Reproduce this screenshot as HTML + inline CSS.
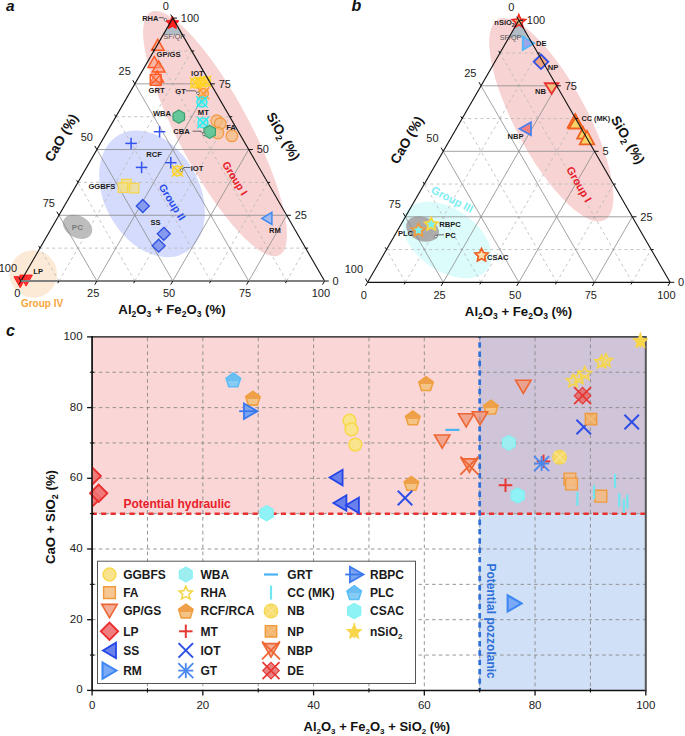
<!DOCTYPE html>
<html><head><meta charset="utf-8"><style>
html,body{margin:0;padding:0;background:#fff;width:685px;height:736px;overflow:hidden}
svg{display:block}
text{font-family:"Liberation Sans", sans-serif}
</style></head><body>
<svg width="685" height="736" viewBox="0 0 685 736">
<defs><linearGradient id="g0" x1="0" y1="0" x2="0" y2="1"><stop offset="0.55" stop-color="#6CBDF0"/><stop offset="0.55" stop-color="#86CCF4"/></linearGradient><linearGradient id="g1" x1="0" y1="0" x2="0" y2="1"><stop offset="0.55" stop-color="#EEA04A"/><stop offset="0.55" stop-color="#F4C486"/></linearGradient><linearGradient id="g2" x1="0" y1="0" x2="0" y2="1"><stop offset="0.55" stop-color="#EEA04A"/><stop offset="0.55" stop-color="#F4C486"/></linearGradient><linearGradient id="g3" x1="0" y1="0" x2="0" y2="1"><stop offset="0.55" stop-color="#EEA04A"/><stop offset="0.55" stop-color="#F4C486"/></linearGradient><linearGradient id="g4" x1="0" y1="0" x2="0" y2="1"><stop offset="0.55" stop-color="#EEA04A"/><stop offset="0.55" stop-color="#F4C486"/></linearGradient><linearGradient id="g5" x1="0" y1="0" x2="0" y2="1"><stop offset="0.55" stop-color="#EEA04A"/><stop offset="0.55" stop-color="#F4C486"/></linearGradient><linearGradient id="g6" x1="0" y1="0" x2="0" y2="1"><stop offset="0.55" stop-color="#EEA04A"/><stop offset="0.55" stop-color="#F4C486"/></linearGradient><linearGradient id="g7" x1="0" y1="0" x2="0" y2="1"><stop offset="0.55" stop-color="#6CBDF0"/><stop offset="0.55" stop-color="#86CCF4"/></linearGradient></defs><rect width="685" height="736" fill="#fff"/>
<circle cx="33.3" cy="274" r="23.8" fill="#FDEAD6"/>
<ellipse cx="215" cy="133.6" rx="137.5" ry="36" transform="rotate(62 215 133.6)" fill="#F8D3D3"/>
<ellipse cx="152" cy="193.8" rx="67.5" ry="47.5" transform="rotate(61 152 193.8)" fill="#D5DBFD"/>
<ellipse cx="77.6" cy="226.8" rx="15.5" ry="11" transform="rotate(28 77.6 226.8)" fill="#BDBDBD"/>
<path d="M170.4,22 L175.2,22 L182.2,34.3 Q173,35.5 163.4,34.3 Z" fill="#B2BCC6"/>
<line x1="39.98" y1="248.14" x2="305.63" y2="248.14" stroke="#b8b8b8" stroke-width="0.8" stroke-dasharray="3.1,3"/>
<line x1="58.95" y1="281" x2="191.78" y2="50.96" stroke="#b8b8b8" stroke-width="0.8" stroke-dasharray="3.1,3"/>
<line x1="286.65" y1="281" x2="153.83" y2="50.96" stroke="#b8b8b8" stroke-width="0.8" stroke-dasharray="3.1,3"/>
<line x1="77.92" y1="182.41" x2="267.68" y2="182.41" stroke="#b8b8b8" stroke-width="0.8" stroke-dasharray="3.1,3"/>
<line x1="134.85" y1="281" x2="229.72" y2="116.69" stroke="#b8b8b8" stroke-width="0.8" stroke-dasharray="3.1,3"/>
<line x1="210.75" y1="281" x2="115.88" y2="116.69" stroke="#b8b8b8" stroke-width="0.8" stroke-dasharray="3.1,3"/>
<line x1="115.88" y1="116.69" x2="229.72" y2="116.69" stroke="#b8b8b8" stroke-width="0.8" stroke-dasharray="3.1,3"/>
<line x1="210.75" y1="281" x2="267.68" y2="182.41" stroke="#b8b8b8" stroke-width="0.8" stroke-dasharray="3.1,3"/>
<line x1="134.85" y1="281" x2="77.92" y2="182.41" stroke="#b8b8b8" stroke-width="0.8" stroke-dasharray="3.1,3"/>
<line x1="153.83" y1="50.96" x2="191.78" y2="50.96" stroke="#b8b8b8" stroke-width="0.8" stroke-dasharray="3.1,3"/>
<line x1="286.65" y1="281" x2="305.63" y2="248.14" stroke="#b8b8b8" stroke-width="0.8" stroke-dasharray="3.1,3"/>
<line x1="58.95" y1="281" x2="39.98" y2="248.14" stroke="#b8b8b8" stroke-width="0.8" stroke-dasharray="3.1,3"/>
<line x1="58.95" y1="215.28" x2="286.65" y2="215.28" stroke="#8a8a8a" stroke-width="0.8" />
<line x1="96.9" y1="281" x2="210.75" y2="83.83" stroke="#8a8a8a" stroke-width="0.8" />
<line x1="248.7" y1="281" x2="134.85" y2="83.83" stroke="#8a8a8a" stroke-width="0.8" />
<line x1="96.9" y1="149.55" x2="248.7" y2="149.55" stroke="#8a8a8a" stroke-width="0.8" />
<line x1="172.8" y1="281" x2="248.7" y2="149.55" stroke="#8a8a8a" stroke-width="0.8" />
<line x1="172.8" y1="281" x2="96.9" y2="149.55" stroke="#8a8a8a" stroke-width="0.8" />
<line x1="134.85" y1="83.83" x2="210.75" y2="83.83" stroke="#8a8a8a" stroke-width="0.8" />
<line x1="248.7" y1="281" x2="286.65" y2="215.28" stroke="#8a8a8a" stroke-width="0.8" />
<line x1="96.9" y1="281" x2="58.95" y2="215.28" stroke="#8a8a8a" stroke-width="0.8" />
<text x="17.3" y="296.5" font-size="11" font-weight="normal" fill="#222" text-anchor="middle"  >0</text>
<text x="332.6" y="284.7" font-size="11" font-weight="normal" fill="#222" text-anchor="start"  >0</text>
<text x="168.8" y="9.5" font-size="11" font-weight="normal" fill="#222" text-anchor="end"  >0</text>
<text x="93.2" y="296.5" font-size="11" font-weight="normal" fill="#222" text-anchor="middle"  >25</text>
<text x="294.65" y="218.97" font-size="11" font-weight="normal" fill="#222" text-anchor="start"  >25</text>
<text x="130.85" y="75.23" font-size="11" font-weight="normal" fill="#222" text-anchor="end"  >25</text>
<text x="169.1" y="296.5" font-size="11" font-weight="normal" fill="#222" text-anchor="middle"  >50</text>
<text x="256.7" y="153.25" font-size="11" font-weight="normal" fill="#222" text-anchor="start"  >50</text>
<text x="92.9" y="140.95" font-size="11" font-weight="normal" fill="#222" text-anchor="end"  >50</text>
<text x="245" y="296.5" font-size="11" font-weight="normal" fill="#222" text-anchor="middle"  >75</text>
<text x="218.75" y="87.53" font-size="11" font-weight="normal" fill="#222" text-anchor="start"  >75</text>
<text x="54.95" y="206.67" font-size="11" font-weight="normal" fill="#222" text-anchor="end"  >75</text>
<text x="320.9" y="296.5" font-size="11" font-weight="normal" fill="#222" text-anchor="middle"  >100</text>
<text x="180.8" y="21.8" font-size="11" font-weight="normal" fill="#222" text-anchor="start"  >100</text>
<text x="17" y="272.4" font-size="11" font-weight="normal" fill="#222" text-anchor="end"  >100</text>
<text x="174.3" y="38.6" font-size="7.2" font-weight="normal" fill="#555" text-anchor="middle"  >SF/QP</text>
<polygon points="157.8,39.3 164.1,50.3 151.5,50.3" fill="#F8A088" fill-opacity="0.55" stroke="#FF5A22" stroke-width="1.5" stroke-linejoin="miter" />
<polygon points="154.3,56.4 160.6,67.4 148,67.4" fill="#F8A088" fill-opacity="0.55" stroke="#FF5A22" stroke-width="1.5" stroke-linejoin="miter" />
<polygon points="158.6,60.9 164.9,71.9 152.3,71.9" fill="#F8A088" fill-opacity="0.55" stroke="#FF5A22" stroke-width="1.5" stroke-linejoin="miter" />
<polygon points="157.1,70.9 163.4,81.9 150.8,81.9" fill="#F8A088" fill-opacity="0.55" stroke="#FF5A22" stroke-width="1.5" stroke-linejoin="miter" />
<polygon points="150.3,74.4 161.1,74.4 161.1,85.2 150.3,85.2" fill="#F8A088" fill-opacity="0.45" stroke="#FF5A22" stroke-width="1.4" stroke-linejoin="miter" />
<line x1="150.3" y1="74.4" x2="161.1" y2="85.2" stroke="#FF5A22" stroke-width="1.2" />
<line x1="150.3" y1="85.2" x2="161.1" y2="74.4" stroke="#FF5A22" stroke-width="1.2" />
<text x="168.5" y="57.34" font-size="7.6" font-weight="bold" fill="#1a1a1a" text-anchor="middle"  >GP/GS</text>
<text x="156.5" y="92.74" font-size="7.6" font-weight="bold" fill="#1a1a1a" text-anchor="middle"  >GRT</text>
<circle cx="195.5" cy="83" r="5" fill="#FFD320" fill-opacity="0.35" stroke="#FFD320" stroke-width="1.3"/>
<line x1="189.75" y1="77.25" x2="201.25" y2="88.75" stroke="#FFD320" stroke-width="1.3" />
<line x1="189.75" y1="88.75" x2="201.25" y2="77.25" stroke="#FFD320" stroke-width="1.3" />
<circle cx="200.5" cy="82.3" r="5" fill="#FFD320" fill-opacity="0.35" stroke="#FFD320" stroke-width="1.3"/>
<line x1="194.75" y1="76.55" x2="206.25" y2="88.05" stroke="#FFD320" stroke-width="1.3" />
<line x1="194.75" y1="88.05" x2="206.25" y2="76.55" stroke="#FFD320" stroke-width="1.3" />
<circle cx="205.6" cy="81.5" r="5" fill="#FFD320" fill-opacity="0.35" stroke="#FFD320" stroke-width="1.3"/>
<line x1="199.85" y1="75.75" x2="211.35" y2="87.25" stroke="#FFD320" stroke-width="1.3" />
<line x1="199.85" y1="87.25" x2="211.35" y2="75.75" stroke="#FFD320" stroke-width="1.3" />
<text x="197.4" y="76.14" font-size="7.6" font-weight="bold" fill="#1a1a1a" text-anchor="middle"  >IOT</text>
<circle cx="203.4" cy="93.5" r="5" fill="#FF9A2A" fill-opacity="0.35" stroke="#FF9A2A" stroke-width="1.3"/>
<line x1="197.65" y1="87.75" x2="209.15" y2="99.25" stroke="#FF9A2A" stroke-width="1.3" />
<line x1="197.65" y1="99.25" x2="209.15" y2="87.75" stroke="#FF9A2A" stroke-width="1.3" />
<path d="M186,90.8 L195,90.8 L197.5,93" fill="none" stroke="#333" stroke-width="0.7"/>
<circle cx="198" cy="93.3" r="1.3" fill="white" stroke="#333" stroke-width="0.6"/>
<text x="180.5" y="93.74" font-size="7.6" font-weight="bold" fill="#1a1a1a" text-anchor="middle"  >GT</text>
<circle cx="201.9" cy="101.9" r="5" fill="#22EEF0" fill-opacity="0.35" stroke="#22EEF0" stroke-width="1.3"/>
<line x1="196.15" y1="96.15" x2="207.65" y2="107.65" stroke="#22EEF0" stroke-width="1.3" />
<line x1="196.15" y1="107.65" x2="207.65" y2="96.15" stroke="#22EEF0" stroke-width="1.3" />
<circle cx="203" cy="122.8" r="5" fill="#22EEF0" fill-opacity="0.35" stroke="#22EEF0" stroke-width="1.3"/>
<line x1="197.25" y1="117.05" x2="208.75" y2="128.55" stroke="#22EEF0" stroke-width="1.3" />
<line x1="197.25" y1="128.55" x2="208.75" y2="117.05" stroke="#22EEF0" stroke-width="1.3" />
<text x="203.3" y="114.74" font-size="7.6" font-weight="bold" fill="#1a1a1a" text-anchor="middle"  >MT</text>
<circle cx="216.7" cy="120.7" r="5.8" fill="#F5BC80" fill-opacity="0.7" stroke="#F09A3E" stroke-width="1.2"/>
<circle cx="220.2" cy="123.6" r="5.8" fill="#F5BC80" fill-opacity="0.7" stroke="#F09A3E" stroke-width="1.2"/>
<circle cx="217.9" cy="133" r="5.8" fill="#F5BC80" fill-opacity="0.7" stroke="#F09A3E" stroke-width="1.2"/>
<circle cx="231.9" cy="135.9" r="5.8" fill="#F5BC80" fill-opacity="0.7" stroke="#F09A3E" stroke-width="1.2"/>
<text x="231" y="130.24" font-size="7.6" font-weight="bold" fill="#1a1a1a" text-anchor="middle"  >FA</text>
<polygon points="178.8,110 184.52,113.3 184.52,119.9 178.8,123.2 173.08,119.9 173.08,113.3" fill="#66C79A" fill-opacity="1" stroke="#3E9E6E" stroke-width="1.2" stroke-linejoin="miter" />
<text x="162" y="116.24" font-size="7.6" font-weight="bold" fill="#1a1a1a" text-anchor="middle"  >WBA</text>
<polygon points="209.7,125.2 215.42,128.5 215.42,135.1 209.7,138.4 203.98,135.1 203.98,128.5" fill="#66C79A" fill-opacity="1" stroke="#3E9E6E" stroke-width="1.2" stroke-linejoin="miter" />
<path d="M192.5,131.2 L201,131.2 L203.5,134" fill="none" stroke="#333" stroke-width="0.7"/>
<circle cx="203.9" cy="134.2" r="1.3" fill="white" stroke="#333" stroke-width="0.6"/>
<text x="181.5" y="134.24" font-size="7.6" font-weight="bold" fill="#1a1a1a" text-anchor="middle"  >CBA</text>
<polygon points="172.4,16 174.46,20.17 179.06,20.84 175.73,24.08 176.51,28.66 172.4,26.5 168.29,28.66 169.07,24.08 165.74,20.84 170.34,20.17" fill="#FF2020" fill-opacity="1" stroke="#FF1010" stroke-width="0.8" stroke-linejoin="miter" />
<path d="M158.8,17.6 L163,17.6 L165,19.5" fill="none" stroke="#333" stroke-width="0.7"/>
<circle cx="165.5" cy="19.8" r="1.3" fill="white" stroke="#333" stroke-width="0.6"/>
<text x="150.3" y="21.1" font-size="7.5" font-weight="bold" fill="#1a1a1a" text-anchor="middle"  >RHA</text>
<line x1="153.85" y1="131.7" x2="165.35" y2="131.7" stroke="#3453EE" stroke-width="1.5" />
<line x1="159.6" y1="125.95" x2="159.6" y2="137.45" stroke="#3453EE" stroke-width="1.5" />
<line x1="125.35" y1="143.4" x2="136.85" y2="143.4" stroke="#3453EE" stroke-width="1.5" />
<line x1="131.1" y1="137.65" x2="131.1" y2="149.15" stroke="#3453EE" stroke-width="1.5" />
<line x1="135.85" y1="167.4" x2="147.35" y2="167.4" stroke="#3453EE" stroke-width="1.5" />
<line x1="141.6" y1="161.65" x2="141.6" y2="173.15" stroke="#3453EE" stroke-width="1.5" />
<line x1="165.05" y1="162.7" x2="176.55" y2="162.7" stroke="#3453EE" stroke-width="1.5" />
<line x1="170.8" y1="156.95" x2="170.8" y2="168.45" stroke="#3453EE" stroke-width="1.5" />
<text x="154" y="156.64" font-size="7.6" font-weight="bold" fill="#1a1a1a" text-anchor="middle"  >RCF</text>
<circle cx="177.5" cy="171" r="5" fill="#FFD320" fill-opacity="0.35" stroke="#FFD320" stroke-width="1.3"/>
<line x1="171.75" y1="165.25" x2="183.25" y2="176.75" stroke="#FFD320" stroke-width="1.3" />
<line x1="171.75" y1="176.75" x2="183.25" y2="165.25" stroke="#FFD320" stroke-width="1.3" />
<path d="M190.5,167.5 L184,167.5 L182,169.8" fill="none" stroke="#333" stroke-width="0.7"/>
<circle cx="181.5" cy="170.2" r="1.3" fill="white" stroke="#333" stroke-width="0.6"/>
<text x="197" y="171.24" font-size="7.6" font-weight="bold" fill="#1a1a1a" text-anchor="middle"  >IOT</text>
<polygon points="121.65,179.45 131.15,179.45 131.15,188.95 121.65,188.95" fill="#F2E08A" fill-opacity="0.75" stroke="#F5D64A" stroke-width="1.2" stroke-linejoin="miter" />
<polygon points="118.15,182.95 127.65,182.95 127.65,192.45 118.15,192.45" fill="#F2E08A" fill-opacity="0.75" stroke="#F5D64A" stroke-width="1.2" stroke-linejoin="miter" />
<polygon points="129.35,183.45 138.85,183.45 138.85,192.95 129.35,192.95" fill="#F2E08A" fill-opacity="0.75" stroke="#F5D64A" stroke-width="1.2" stroke-linejoin="miter" />
<text x="101.9" y="189.34" font-size="7.6" font-weight="bold" fill="#1a1a1a" text-anchor="middle"  >GGBFS</text>
<polygon points="142.8,199.5 149.3,206 142.8,212.5 136.3,206" fill="#7D93EE" fill-opacity="0.9" stroke="#2D4FE0" stroke-width="1.3" stroke-linejoin="miter" />
<polygon points="163.8,227.3 170.3,233.8 163.8,240.3 157.3,233.8" fill="#7D93EE" fill-opacity="0.9" stroke="#2D4FE0" stroke-width="1.3" stroke-linejoin="miter" />
<polygon points="158.7,239.2 165.2,245.7 158.7,252.2 152.2,245.7" fill="#7D93EE" fill-opacity="0.9" stroke="#2D4FE0" stroke-width="1.3" stroke-linejoin="miter" />
<text x="155.6" y="224.74" font-size="7.6" font-weight="bold" fill="#1a1a1a" text-anchor="middle"  >SS</text>
<text x="77.4" y="229.88" font-size="8" font-weight="bold" fill="#7a7a7a" text-anchor="middle"  >PC</text>
<polygon points="261.9,218.4 271.9,212.4 271.9,224.4" fill="#9AB8F2" fill-opacity="0.9" stroke="#3D8BF2" stroke-width="1.5" stroke-linejoin="miter" />
<text x="274.9" y="233.14" font-size="7.6" font-weight="bold" fill="#1a1a1a" text-anchor="middle"  >RM</text>
<polygon points="13.95,276.7 26.45,276.7 20.2,287.7" fill="#FF2A2A" fill-opacity="0.95" stroke="#FF1A1A" stroke-width="1" stroke-linejoin="miter" />
<polygon points="19.85,275.1 32.35,275.1 26.1,286.1" fill="#FF2A2A" fill-opacity="0.95" stroke="#FF1A1A" stroke-width="1" stroke-linejoin="miter" />
<text x="38.2" y="273.74" font-size="7.6" font-weight="bold" fill="#1a1a1a" text-anchor="middle"  >LP</text>
<text x="42" y="306.5" font-size="10" font-weight="bold" fill="#F7A43A" text-anchor="middle"  >Group IV</text>
<line x1="21" y1="281" x2="172.8" y2="18.1" stroke="#111" stroke-width="1.1" />
<line x1="324.6" y1="281" x2="172.8" y2="18.1" stroke="#111" stroke-width="1.1" />
<line x1="21" y1="281" x2="324.6" y2="281" stroke="#808080" stroke-width="2.2" />
<line x1="21" y1="281" x2="18.9" y2="284.64" stroke="#111" stroke-width="1" />
<line x1="324.6" y1="281" x2="328.8" y2="281" stroke="#111" stroke-width="1" />
<line x1="172.8" y1="18.1" x2="170.7" y2="14.46" stroke="#111" stroke-width="1" />
<line x1="58.95" y1="281" x2="57.7" y2="283.17" stroke="#111" stroke-width="1" />
<line x1="305.63" y1="248.14" x2="308.13" y2="248.14" stroke="#111" stroke-width="1" />
<line x1="153.83" y1="50.96" x2="152.58" y2="48.8" stroke="#111" stroke-width="1" />
<line x1="96.9" y1="281" x2="94.8" y2="284.64" stroke="#111" stroke-width="1" />
<line x1="286.65" y1="215.28" x2="290.85" y2="215.28" stroke="#111" stroke-width="1" />
<line x1="134.85" y1="83.83" x2="132.75" y2="80.19" stroke="#111" stroke-width="1" />
<line x1="134.85" y1="281" x2="133.6" y2="283.17" stroke="#111" stroke-width="1" />
<line x1="267.68" y1="182.41" x2="270.18" y2="182.41" stroke="#111" stroke-width="1" />
<line x1="115.88" y1="116.69" x2="114.62" y2="114.52" stroke="#111" stroke-width="1" />
<line x1="172.8" y1="281" x2="170.7" y2="284.64" stroke="#111" stroke-width="1" />
<line x1="248.7" y1="149.55" x2="252.9" y2="149.55" stroke="#111" stroke-width="1" />
<line x1="96.9" y1="149.55" x2="94.8" y2="145.91" stroke="#111" stroke-width="1" />
<line x1="210.75" y1="281" x2="209.5" y2="283.17" stroke="#111" stroke-width="1" />
<line x1="229.72" y1="116.69" x2="232.22" y2="116.69" stroke="#111" stroke-width="1" />
<line x1="77.92" y1="182.41" x2="76.67" y2="180.25" stroke="#111" stroke-width="1" />
<line x1="248.7" y1="281" x2="246.6" y2="284.64" stroke="#111" stroke-width="1" />
<line x1="210.75" y1="83.83" x2="214.95" y2="83.83" stroke="#111" stroke-width="1" />
<line x1="58.95" y1="215.28" x2="56.85" y2="211.64" stroke="#111" stroke-width="1" />
<line x1="286.65" y1="281" x2="285.4" y2="283.17" stroke="#111" stroke-width="1" />
<line x1="191.78" y1="50.96" x2="194.28" y2="50.96" stroke="#111" stroke-width="1" />
<line x1="39.98" y1="248.14" x2="38.73" y2="245.97" stroke="#111" stroke-width="1" />
<line x1="324.6" y1="281" x2="322.5" y2="284.64" stroke="#111" stroke-width="1" />
<line x1="172.8" y1="18.1" x2="177" y2="18.1" stroke="#111" stroke-width="1" />
<line x1="21" y1="281" x2="18.9" y2="277.36" stroke="#111" stroke-width="1" />
<text x="0" y="0" font-size="10.6" font-weight="bold" fill="#E8202A" text-anchor="middle"  transform="translate(235,178.3) rotate(58) translate(0,3.8)">Group I</text>
<text x="0" y="0" font-size="10.6" font-weight="bold" fill="#2A50E8" text-anchor="middle"  transform="translate(172.2,202) rotate(58) translate(0,3.8)">Group II</text>
<text x="0" y="0" font-size="13.5" font-weight="bold" fill="#111" text-anchor="middle"  transform="translate(61,137.5) rotate(-60) translate(0,5)">CaO (%)</text>
<text x="0" y="0" font-size="13.5" font-weight="bold" fill="#111" text-anchor="middle"  transform="translate(283.5,136.3) rotate(60) translate(0,5)">SiO<tspan font-size="9" dy="3">2</tspan><tspan dy="-3"> (%)</tspan></text>
<text x="172" y="314" font-size="13.2" font-weight="bold" fill="#111" text-anchor="middle"  >Al<tspan font-size="8.5" dy="3">2</tspan><tspan dy="-3">O</tspan><tspan font-size="8.5" dy="3">3</tspan><tspan dy="-3"> + Fe</tspan><tspan font-size="8.5" dy="3">2</tspan><tspan dy="-3">O</tspan><tspan font-size="8.5" dy="3">3</tspan><tspan dy="-3"> (%)</tspan></text>
<text x="6" y="11" font-size="15.5" font-weight="bold" fill="#111" text-anchor="start" font-style="italic" >a</text>
<ellipse cx="447" cy="240" rx="50" ry="31" transform="rotate(35 447 240)" fill="#DCFCFC"/>
<ellipse cx="551.3" cy="119.8" rx="113.6" ry="36" transform="rotate(62 551.3 119.8)" fill="#F8D3D3"/>
<ellipse cx="422.5" cy="229" rx="17" ry="12" transform="rotate(22 422.5 229)" fill="#ABABAB"/>
<path d="M516.5,24 L521.2,24 L529,37.2 Q519,38.5 508.6,37.2 Z" fill="#B2BCC6"/>
<line x1="386.51" y1="249.55" x2="651.19" y2="249.55" stroke="#b8b8b8" stroke-width="0.8" stroke-dasharray="3.1,3"/>
<line x1="405.41" y1="282.3" x2="537.76" y2="53.05" stroke="#b8b8b8" stroke-width="0.8" stroke-dasharray="3.1,3"/>
<line x1="632.29" y1="282.3" x2="499.94" y2="53.05" stroke="#b8b8b8" stroke-width="0.8" stroke-dasharray="3.1,3"/>
<line x1="424.32" y1="184.05" x2="613.38" y2="184.05" stroke="#b8b8b8" stroke-width="0.8" stroke-dasharray="3.1,3"/>
<line x1="481.04" y1="282.3" x2="575.57" y2="118.55" stroke="#b8b8b8" stroke-width="0.8" stroke-dasharray="3.1,3"/>
<line x1="556.66" y1="282.3" x2="462.13" y2="118.55" stroke="#b8b8b8" stroke-width="0.8" stroke-dasharray="3.1,3"/>
<line x1="462.13" y1="118.55" x2="575.57" y2="118.55" stroke="#b8b8b8" stroke-width="0.8" stroke-dasharray="3.1,3"/>
<line x1="556.66" y1="282.3" x2="613.38" y2="184.05" stroke="#b8b8b8" stroke-width="0.8" stroke-dasharray="3.1,3"/>
<line x1="481.04" y1="282.3" x2="424.32" y2="184.05" stroke="#b8b8b8" stroke-width="0.8" stroke-dasharray="3.1,3"/>
<line x1="499.94" y1="53.05" x2="537.76" y2="53.05" stroke="#b8b8b8" stroke-width="0.8" stroke-dasharray="3.1,3"/>
<line x1="632.29" y1="282.3" x2="651.19" y2="249.55" stroke="#b8b8b8" stroke-width="0.8" stroke-dasharray="3.1,3"/>
<line x1="405.41" y1="282.3" x2="386.51" y2="249.55" stroke="#b8b8b8" stroke-width="0.8" stroke-dasharray="3.1,3"/>
<line x1="405.41" y1="216.8" x2="632.29" y2="216.8" stroke="#8a8a8a" stroke-width="0.8" />
<line x1="443.23" y1="282.3" x2="556.66" y2="85.8" stroke="#8a8a8a" stroke-width="0.8" />
<line x1="594.48" y1="282.3" x2="481.04" y2="85.8" stroke="#8a8a8a" stroke-width="0.8" />
<line x1="443.23" y1="151.3" x2="594.48" y2="151.3" stroke="#8a8a8a" stroke-width="0.8" />
<line x1="518.85" y1="282.3" x2="594.48" y2="151.3" stroke="#8a8a8a" stroke-width="0.8" />
<line x1="518.85" y1="282.3" x2="443.23" y2="151.3" stroke="#8a8a8a" stroke-width="0.8" />
<line x1="481.04" y1="85.8" x2="556.66" y2="85.8" stroke="#8a8a8a" stroke-width="0.8" />
<line x1="594.48" y1="282.3" x2="632.29" y2="216.8" stroke="#8a8a8a" stroke-width="0.8" />
<line x1="443.23" y1="282.3" x2="405.41" y2="216.8" stroke="#8a8a8a" stroke-width="0.8" />
<text x="363.9" y="298.6" font-size="11" font-weight="normal" fill="#222" text-anchor="middle"  >0</text>
<text x="678.1" y="286" font-size="11" font-weight="normal" fill="#222" text-anchor="start"  >0</text>
<text x="514.25" y="11.2" font-size="11" font-weight="normal" fill="#222" text-anchor="end"  >0</text>
<text x="439.53" y="298.6" font-size="11" font-weight="normal" fill="#222" text-anchor="middle"  >25</text>
<text x="640.29" y="220.5" font-size="11" font-weight="normal" fill="#222" text-anchor="start"  >25</text>
<text x="476.44" y="76.7" font-size="11" font-weight="normal" fill="#222" text-anchor="end"  >25</text>
<text x="515.15" y="298.6" font-size="11" font-weight="normal" fill="#222" text-anchor="middle"  >50</text>
<text x="602.48" y="155" font-size="11" font-weight="normal" fill="#222" text-anchor="start"  >5</text>
<text x="438.62" y="142.2" font-size="11" font-weight="normal" fill="#222" text-anchor="end"  >50</text>
<text x="590.77" y="298.6" font-size="11" font-weight="normal" fill="#222" text-anchor="middle"  >75</text>
<text x="564.66" y="89.5" font-size="11" font-weight="normal" fill="#222" text-anchor="start"  >75</text>
<text x="400.81" y="207.7" font-size="11" font-weight="normal" fill="#222" text-anchor="end"  >75</text>
<text x="666.4" y="298.6" font-size="11" font-weight="normal" fill="#222" text-anchor="middle"  >100</text>
<text x="526.85" y="24" font-size="11" font-weight="normal" fill="#222" text-anchor="start"  >100</text>
<text x="363" y="273.2" font-size="11" font-weight="normal" fill="#222" text-anchor="end"  >100</text>
<text x="510.5" y="40.2" font-size="7.2" font-weight="normal" fill="#555" text-anchor="middle"  >SF/QP</text>
<polygon points="518.9,14.7 520.75,19.15 525.56,19.54 521.9,22.67 523.01,27.36 518.9,24.85 514.79,27.36 515.9,22.67 512.24,19.54 517.05,19.15" fill="#D89040" fill-opacity="0.7" stroke="#F02820" stroke-width="1.6" stroke-linejoin="miter" />
<text x="504.5" y="24.8" font-size="7.5" font-weight="bold" fill="#1a1a1a" text-anchor="middle"  >nSiO<tspan font-size="5" dy="2">2</tspan></text>
<polygon points="534.25,43.3 522.75,36.55 522.75,50.05" fill="#9AA6EC" fill-opacity="1" stroke="#4FB8F8" stroke-width="1.8" stroke-linejoin="miter" />
<text x="541.3" y="45.74" font-size="7.6" font-weight="bold" fill="#1a1a1a" text-anchor="middle"  >DE</text>
<polygon points="541,54.5 548.3,61.8 541,69.1 533.7,61.8" fill="#F0A484" fill-opacity="1" stroke="#2F4FE6" stroke-width="1.8" stroke-linejoin="miter" />
<text x="553.1" y="69.64" font-size="7.6" font-weight="bold" fill="#1a1a1a" text-anchor="middle"  >NP</text>
<polygon points="544.85,83.25 558.35,83.25 551.6,93.75" fill="#F2C080" fill-opacity="1" stroke="#E83030" stroke-width="1.8" stroke-linejoin="miter" />
<text x="540.6" y="93.54" font-size="7.6" font-weight="bold" fill="#1a1a1a" text-anchor="middle"  >NB</text>
<polygon points="575.2,114.05 582.7,127.55 567.7,127.55" fill="#F6D468" fill-opacity="1" stroke="#F06020" stroke-width="1.8" stroke-linejoin="miter" />
<polygon points="576,116.5 583,128.5 569,128.5" fill="#F6D468" fill-opacity="1" stroke="#F06020" stroke-width="1.8" stroke-linejoin="miter" />
<polygon points="583.2,127.3 589.2,138.7 577.2,138.7" fill="#F6D468" fill-opacity="1" stroke="#F06020" stroke-width="1.8" stroke-linejoin="miter" />
<polygon points="587,130.85 594.25,144.35 579.75,144.35" fill="#F6D468" fill-opacity="1" stroke="#F06020" stroke-width="1.8" stroke-linejoin="miter" />
<text x="595.8" y="120.73" font-size="7.3" font-weight="bold" fill="#1a1a1a" text-anchor="middle"  >CC (MK)</text>
<polygon points="519.45,128.8 530.95,122.3 530.95,135.3" fill="#F08080" fill-opacity="1" stroke="#4A80F0" stroke-width="1.8" stroke-linejoin="miter" />
<text x="515.6" y="139.34" font-size="7.6" font-weight="bold" fill="#1a1a1a" text-anchor="middle"  >NBP</text>
<polygon points="418.4,223.48 420.4,227.53 424.87,228.18 421.63,231.33 422.4,235.78 418.4,233.68 414.4,235.78 415.17,231.33 411.93,228.18 416.4,227.53" fill="#7EF0F0" fill-opacity="1" stroke="#F09A3E" stroke-width="1.8" stroke-linejoin="miter" />
<polygon points="431.2,217.58 433.2,221.63 437.67,222.28 434.43,225.43 435.2,229.88 431.2,227.78 427.2,229.88 427.97,225.43 424.73,222.28 429.2,221.63" fill="#7EF0F0" fill-opacity="1" stroke="#F7D640" stroke-width="1.8" stroke-linejoin="miter" />
<polygon points="481.5,248.48 483.5,252.53 487.97,253.18 484.73,256.33 485.5,260.78 481.5,258.68 477.5,260.78 478.27,256.33 475.03,253.18 479.5,252.53" fill="#FBE0B0" fill-opacity="1" stroke="#F06020" stroke-width="1.8" stroke-linejoin="miter" />
<text x="405.5" y="236.24" font-size="7.6" font-weight="bold" fill="#1a1a1a" text-anchor="middle"  >PLC</text>
<text x="450" y="226.94" font-size="7.6" font-weight="bold" fill="#1a1a1a" text-anchor="middle"  >RBPC</text>
<path d="M444,234.8 L438,234.8 L436.5,236.2" fill="none" stroke="#333" stroke-width="0.7"/>
<circle cx="435.9" cy="236.6" r="1.3" fill="white" stroke="#333" stroke-width="0.6"/>
<text x="450.5" y="238.24" font-size="7.6" font-weight="bold" fill="#1a1a1a" text-anchor="middle"  >PC</text>
<text x="497.8" y="260.34" font-size="7.6" font-weight="bold" fill="#1a1a1a" text-anchor="middle"  >CSAC</text>
<line x1="367.6" y1="282.3" x2="518.85" y2="20.3" stroke="#111" stroke-width="1.1" />
<line x1="670.1" y1="282.3" x2="518.85" y2="20.3" stroke="#111" stroke-width="1.1" />
<line x1="367.6" y1="282.3" x2="670.1" y2="282.3" stroke="#111" stroke-width="1.3" />
<line x1="367.6" y1="282.3" x2="365.5" y2="285.94" stroke="#111" stroke-width="1" />
<line x1="670.1" y1="282.3" x2="674.3" y2="282.3" stroke="#111" stroke-width="1" />
<line x1="518.85" y1="20.3" x2="516.75" y2="16.66" stroke="#111" stroke-width="1" />
<line x1="405.41" y1="282.3" x2="404.16" y2="284.47" stroke="#111" stroke-width="1" />
<line x1="651.19" y1="249.55" x2="653.69" y2="249.55" stroke="#111" stroke-width="1" />
<line x1="499.94" y1="53.05" x2="498.69" y2="50.88" stroke="#111" stroke-width="1" />
<line x1="443.23" y1="282.3" x2="441.12" y2="285.94" stroke="#111" stroke-width="1" />
<line x1="632.29" y1="216.8" x2="636.49" y2="216.8" stroke="#111" stroke-width="1" />
<line x1="481.04" y1="85.8" x2="478.94" y2="82.16" stroke="#111" stroke-width="1" />
<line x1="481.04" y1="282.3" x2="479.79" y2="284.47" stroke="#111" stroke-width="1" />
<line x1="613.38" y1="184.05" x2="615.88" y2="184.05" stroke="#111" stroke-width="1" />
<line x1="462.13" y1="118.55" x2="460.88" y2="116.38" stroke="#111" stroke-width="1" />
<line x1="518.85" y1="282.3" x2="516.75" y2="285.94" stroke="#111" stroke-width="1" />
<line x1="594.48" y1="151.3" x2="598.68" y2="151.3" stroke="#111" stroke-width="1" />
<line x1="443.23" y1="151.3" x2="441.12" y2="147.66" stroke="#111" stroke-width="1" />
<line x1="556.66" y1="282.3" x2="555.41" y2="284.47" stroke="#111" stroke-width="1" />
<line x1="575.57" y1="118.55" x2="578.07" y2="118.55" stroke="#111" stroke-width="1" />
<line x1="424.32" y1="184.05" x2="423.07" y2="181.89" stroke="#111" stroke-width="1" />
<line x1="594.48" y1="282.3" x2="592.38" y2="285.94" stroke="#111" stroke-width="1" />
<line x1="556.66" y1="85.8" x2="560.86" y2="85.8" stroke="#111" stroke-width="1" />
<line x1="405.41" y1="216.8" x2="403.31" y2="213.16" stroke="#111" stroke-width="1" />
<line x1="632.29" y1="282.3" x2="631.04" y2="284.47" stroke="#111" stroke-width="1" />
<line x1="537.76" y1="53.05" x2="540.26" y2="53.05" stroke="#111" stroke-width="1" />
<line x1="386.51" y1="249.55" x2="385.26" y2="247.39" stroke="#111" stroke-width="1" />
<line x1="670.1" y1="282.3" x2="668" y2="285.94" stroke="#111" stroke-width="1" />
<line x1="518.85" y1="20.3" x2="523.05" y2="20.3" stroke="#111" stroke-width="1" />
<line x1="367.6" y1="282.3" x2="365.5" y2="278.66" stroke="#111" stroke-width="1" />
<text x="0" y="0" font-size="11" font-weight="bold" fill="#7EEEF5" text-anchor="middle"  transform="translate(452.3,199.2) rotate(27) translate(0,4)">Group III</text>
<text x="0" y="0" font-size="11" font-weight="bold" fill="#E8202A" text-anchor="middle"  transform="translate(579.3,184.3) rotate(60) translate(0,4)">Group I</text>
<text x="0" y="0" font-size="13.5" font-weight="bold" fill="#111" text-anchor="middle"  transform="translate(406.6,139.8) rotate(-60) translate(0,5)">CaO (%)</text>
<text x="0" y="0" font-size="13.5" font-weight="bold" fill="#111" text-anchor="middle"  transform="translate(628.2,139.8) rotate(60) translate(0,5)">SiO<tspan font-size="9" dy="3">2</tspan><tspan dy="-3"> (%)</tspan></text>
<text x="518.5" y="316" font-size="13.2" font-weight="bold" fill="#111" text-anchor="middle"  >Al<tspan font-size="8.5" dy="3">2</tspan><tspan dy="-3">O</tspan><tspan font-size="8.5" dy="3">3</tspan><tspan dy="-3"> + Fe</tspan><tspan font-size="8.5" dy="3">2</tspan><tspan dy="-3">O</tspan><tspan font-size="8.5" dy="3">3</tspan><tspan dy="-3"> (%)</tspan></text>
<text x="351.5" y="10.8" font-size="16" font-weight="bold" fill="#111" text-anchor="start" font-style="italic" >b</text>
<rect x="92.1" y="336.9" width="387.59" height="176.75" fill="#FAD6D6"/>
<rect x="479.69" y="336.9" width="166.11" height="176.75" fill="#D0C4D8"/>
<rect x="479.69" y="513.65" width="166.11" height="176.75" fill="#D0E0F7"/>
<line x1="147.47" y1="336.9" x2="147.47" y2="690.4" stroke="#8a8a8a" stroke-width="0.9" stroke-dasharray="3.7,3.2" stroke-dashoffset="-0.7"/>
<line x1="92.1" y1="655.05" x2="645.8" y2="655.05" stroke="#8a8a8a" stroke-width="0.9" stroke-dasharray="3.5,3.3"/>
<line x1="202.84" y1="336.9" x2="202.84" y2="690.4" stroke="#8a8a8a" stroke-width="0.9" stroke-dasharray="3.7,3.2" stroke-dashoffset="-0.7"/>
<line x1="92.1" y1="619.7" x2="645.8" y2="619.7" stroke="#8a8a8a" stroke-width="0.9" stroke-dasharray="3.5,3.3"/>
<line x1="258.21" y1="336.9" x2="258.21" y2="690.4" stroke="#8a8a8a" stroke-width="0.9" stroke-dasharray="3.7,3.2" stroke-dashoffset="-0.7"/>
<line x1="92.1" y1="584.35" x2="645.8" y2="584.35" stroke="#8a8a8a" stroke-width="0.9" stroke-dasharray="3.5,3.3"/>
<line x1="313.58" y1="336.9" x2="313.58" y2="690.4" stroke="#8a8a8a" stroke-width="0.9" stroke-dasharray="3.7,3.2" stroke-dashoffset="-0.7"/>
<line x1="92.1" y1="549" x2="645.8" y2="549" stroke="#8a8a8a" stroke-width="0.9" stroke-dasharray="3.5,3.3"/>
<line x1="368.95" y1="336.9" x2="368.95" y2="690.4" stroke="#8a8a8a" stroke-width="0.9" stroke-dasharray="3.7,3.2" stroke-dashoffset="-0.7"/>
<line x1="92.1" y1="513.65" x2="645.8" y2="513.65" stroke="#8a8a8a" stroke-width="0.9" stroke-dasharray="3.5,3.3"/>
<line x1="424.32" y1="336.9" x2="424.32" y2="690.4" stroke="#8a8a8a" stroke-width="0.9" stroke-dasharray="3.7,3.2" stroke-dashoffset="-0.7"/>
<line x1="92.1" y1="478.3" x2="645.8" y2="478.3" stroke="#8a8a8a" stroke-width="0.9" stroke-dasharray="3.5,3.3"/>
<line x1="479.69" y1="336.9" x2="479.69" y2="690.4" stroke="#8a8a8a" stroke-width="0.9" stroke-dasharray="3.7,3.2" stroke-dashoffset="-0.7"/>
<line x1="92.1" y1="442.95" x2="645.8" y2="442.95" stroke="#8a8a8a" stroke-width="0.9" stroke-dasharray="3.5,3.3"/>
<line x1="535.06" y1="336.9" x2="535.06" y2="690.4" stroke="#8a8a8a" stroke-width="0.9" stroke-dasharray="3.7,3.2" stroke-dashoffset="-0.7"/>
<line x1="92.1" y1="407.6" x2="645.8" y2="407.6" stroke="#8a8a8a" stroke-width="0.9" stroke-dasharray="3.5,3.3"/>
<line x1="590.43" y1="336.9" x2="590.43" y2="690.4" stroke="#8a8a8a" stroke-width="0.9" stroke-dasharray="3.7,3.2" stroke-dashoffset="-0.7"/>
<line x1="92.1" y1="372.25" x2="645.8" y2="372.25" stroke="#8a8a8a" stroke-width="0.9" stroke-dasharray="3.5,3.3"/>
<line x1="92.1" y1="513.65" x2="645.8" y2="513.65" stroke="#E8312F" stroke-width="2.5" stroke-dasharray="5.2,4.26" stroke-dashoffset="0.46"/>
<line x1="479.69" y1="336.9" x2="479.69" y2="690.4" stroke="#2E6FD8" stroke-width="2.7" stroke-dasharray="5.4,3.94" stroke-dashoffset="4.1"/>
<text x="123.4" y="508" font-size="12" font-weight="bold" fill="#E8202A" text-anchor="start"  >Potential hydraulic</text>
<text x="0" y="0" font-size="12" font-weight="bold" fill="#2E6FD8" text-anchor="start"  transform="translate(487.3,563.4) rotate(90)">Potential pozzolanic</text>
<rect x="97.5" y="561.2" width="318" height="122.3" fill="white" stroke="#555" stroke-width="1"/>
<line x1="92.1" y1="336.9" x2="645.8" y2="336.9" stroke="#111" stroke-width="1.4" />
<line x1="92.1" y1="336.2" x2="92.1" y2="691.1" stroke="#111" stroke-width="1.3" />
<line x1="91.4" y1="690.4" x2="646.5" y2="690.4" stroke="#111" stroke-width="1.5" />
<line x1="645.8" y1="336.1" x2="645.8" y2="691.2" stroke="#555" stroke-width="2" />
<line x1="92.1" y1="690.4" x2="92.1" y2="695.4" stroke="#111" stroke-width="1.3" />
<line x1="87.1" y1="690.4" x2="92.1" y2="690.4" stroke="#111" stroke-width="1.3" />
<text x="92.1" y="708.7" font-size="11.5" font-weight="normal" fill="#222" text-anchor="middle"  >0</text>
<text x="82.6" y="693.3" font-size="11.5" font-weight="normal" fill="#222" text-anchor="end"  >0</text>
<line x1="147.47" y1="688.2" x2="147.47" y2="692.6" stroke="#111" stroke-width="1.1" />
<line x1="89.9" y1="655.05" x2="94.3" y2="655.05" stroke="#111" stroke-width="1.1" />
<line x1="202.84" y1="690.4" x2="202.84" y2="695.4" stroke="#111" stroke-width="1.3" />
<line x1="87.1" y1="619.7" x2="92.1" y2="619.7" stroke="#111" stroke-width="1.3" />
<text x="202.84" y="708.7" font-size="11.5" font-weight="normal" fill="#222" text-anchor="middle"  >20</text>
<text x="82.6" y="622.6" font-size="11.5" font-weight="normal" fill="#222" text-anchor="end"  >20</text>
<line x1="258.21" y1="688.2" x2="258.21" y2="692.6" stroke="#111" stroke-width="1.1" />
<line x1="89.9" y1="584.35" x2="94.3" y2="584.35" stroke="#111" stroke-width="1.1" />
<line x1="313.58" y1="690.4" x2="313.58" y2="695.4" stroke="#111" stroke-width="1.3" />
<line x1="87.1" y1="549" x2="92.1" y2="549" stroke="#111" stroke-width="1.3" />
<text x="313.58" y="708.7" font-size="11.5" font-weight="normal" fill="#222" text-anchor="middle"  >40</text>
<text x="82.6" y="551.9" font-size="11.5" font-weight="normal" fill="#222" text-anchor="end"  >40</text>
<line x1="368.95" y1="688.2" x2="368.95" y2="692.6" stroke="#111" stroke-width="1.1" />
<line x1="89.9" y1="513.65" x2="94.3" y2="513.65" stroke="#111" stroke-width="1.1" />
<line x1="424.32" y1="690.4" x2="424.32" y2="695.4" stroke="#111" stroke-width="1.3" />
<line x1="87.1" y1="478.3" x2="92.1" y2="478.3" stroke="#111" stroke-width="1.3" />
<text x="424.32" y="708.7" font-size="11.5" font-weight="normal" fill="#222" text-anchor="middle"  >60</text>
<text x="82.6" y="481.2" font-size="11.5" font-weight="normal" fill="#222" text-anchor="end"  >60</text>
<line x1="479.69" y1="688.2" x2="479.69" y2="692.6" stroke="#111" stroke-width="1.1" />
<line x1="89.9" y1="442.95" x2="94.3" y2="442.95" stroke="#111" stroke-width="1.1" />
<line x1="535.06" y1="690.4" x2="535.06" y2="695.4" stroke="#111" stroke-width="1.3" />
<line x1="87.1" y1="407.6" x2="92.1" y2="407.6" stroke="#111" stroke-width="1.3" />
<text x="535.06" y="708.7" font-size="11.5" font-weight="normal" fill="#222" text-anchor="middle"  >80</text>
<text x="82.6" y="410.5" font-size="11.5" font-weight="normal" fill="#222" text-anchor="end"  >80</text>
<line x1="590.43" y1="688.2" x2="590.43" y2="692.6" stroke="#111" stroke-width="1.1" />
<line x1="89.9" y1="372.25" x2="94.3" y2="372.25" stroke="#111" stroke-width="1.1" />
<line x1="645.8" y1="690.4" x2="645.8" y2="695.4" stroke="#111" stroke-width="1.3" />
<line x1="87.1" y1="336.9" x2="92.1" y2="336.9" stroke="#111" stroke-width="1.3" />
<text x="645.8" y="708.7" font-size="11.5" font-weight="normal" fill="#222" text-anchor="middle"  >100</text>
<text x="82.6" y="339.8" font-size="11.5" font-weight="normal" fill="#222" text-anchor="end"  >100</text>
<clipPath id="pc"><rect x="92.1" y="336.9" width="553.7" height="353.5"/></clipPath>
<g clip-path="url(#pc)">
<polygon points="92.2,467.45 100.85,476.1 92.2,484.75 83.55,476.1" fill="#EE7070" fill-opacity="0.9" stroke="#EA2E2E" stroke-width="1.9" stroke-linejoin="miter" />
<polygon points="92.2,489.35 100.85,498 92.2,506.65 83.55,498" fill="#EE7070" fill-opacity="0.9" stroke="#EA2E2E" stroke-width="1.9" stroke-linejoin="miter" />
</g>
<polygon points="98.7,484.65 107.35,493.3 98.7,501.95 90.05,493.3" fill="#EE7070" fill-opacity="0.9" stroke="#EA2E2E" stroke-width="1.9" stroke-linejoin="miter" />
<polygon points="233.3,372.96 240.53,378.21 237.77,386.71 228.83,386.71 226.07,378.21" fill="url(#g0)" fill-opacity="1" stroke="#5BBDF8" stroke-width="1.6" stroke-linejoin="miter" />
<polygon points="252.9,391.36 260.13,396.61 257.37,405.11 248.43,405.11 245.67,396.61" fill="url(#g1)" fill-opacity="1" stroke="#F0A040" stroke-width="1.6" stroke-linejoin="miter" />
<polygon points="426,376.76 433.23,382.01 430.47,390.51 421.53,390.51 418.77,382.01" fill="url(#g2)" fill-opacity="1" stroke="#F0A040" stroke-width="1.6" stroke-linejoin="miter" />
<polygon points="412.8,410.96 420.03,416.21 417.27,424.71 408.33,424.71 405.57,416.21" fill="url(#g3)" fill-opacity="1" stroke="#F0A040" stroke-width="1.6" stroke-linejoin="miter" />
<polygon points="411.4,476.56 418.63,481.81 415.87,490.31 406.93,490.31 404.17,481.81" fill="url(#g4)" fill-opacity="1" stroke="#F0A040" stroke-width="1.6" stroke-linejoin="miter" />
<polygon points="490.9,400.26 498.13,405.51 495.37,414.01 486.43,414.01 483.67,405.51" fill="url(#g5)" fill-opacity="1" stroke="#F0A040" stroke-width="1.6" stroke-linejoin="miter" />
<polygon points="257.45,411.2 243.95,403.45 243.95,418.95" fill="#7CA4F0" fill-opacity="1" stroke="#3A78EE" stroke-width="1.8" stroke-linejoin="miter" />
<line x1="239.2" y1="411.2" x2="257.2" y2="411.2" stroke="#3A78EE" stroke-width="1.8" />
<polygon points="266.6,505.6 273.18,509.4 273.18,517 266.6,520.8 260.02,517 260.02,509.4" fill="#8FF2F4" fill-opacity="1" stroke="#80F2F4" stroke-width="1.2" stroke-linejoin="miter" />
<polygon points="517.7,487.9 524.28,491.7 524.28,499.3 517.7,503.1 511.12,499.3 511.12,491.7" fill="#8FF2F4" fill-opacity="1" stroke="#80F2F4" stroke-width="1.2" stroke-linejoin="miter" />
<polygon points="508.8,435.4 515.21,439.1 515.21,446.5 508.8,450.2 502.39,446.5 502.39,439.1" fill="#9EEEF0" fill-opacity="1" stroke="#80F2F4" stroke-width="1.2" stroke-linejoin="miter" />
<circle cx="349.5" cy="420.7" r="6.4" fill="#F9E38C" fill-opacity="1" stroke="#F7D84A" stroke-width="1.5"/>
<circle cx="351.5" cy="429.4" r="6.4" fill="#F9E38C" fill-opacity="1" stroke="#F7D84A" stroke-width="1.5"/>
<circle cx="355.3" cy="444.6" r="6.4" fill="#F9E38C" fill-opacity="1" stroke="#F7D84A" stroke-width="1.5"/>
<polygon points="329.6,477.6 342.6,469.85 342.6,485.35" fill="#6A80EA" fill-opacity="1" stroke="#2446E8" stroke-width="1.8" stroke-linejoin="miter" />
<polygon points="333.4,503 346.4,495.25 346.4,510.75" fill="#6A80EA" fill-opacity="1" stroke="#2446E8" stroke-width="1.8" stroke-linejoin="miter" />
<polygon points="345.9,505.3 358.9,497.55 358.9,513.05" fill="#6A80EA" fill-opacity="1" stroke="#2446E8" stroke-width="1.8" stroke-linejoin="miter" />
<line x1="397.75" y1="490.75" x2="412.25" y2="505.25" stroke="#2F4FE6" stroke-width="2" />
<line x1="397.75" y1="505.25" x2="412.25" y2="490.75" stroke="#2F4FE6" stroke-width="2" />
<line x1="576.45" y1="419.75" x2="590.95" y2="434.25" stroke="#2F4FE6" stroke-width="2" />
<line x1="576.45" y1="434.25" x2="590.95" y2="419.75" stroke="#2F4FE6" stroke-width="2" />
<line x1="624.45" y1="414.75" x2="638.95" y2="429.25" stroke="#2F4FE6" stroke-width="2" />
<line x1="624.45" y1="429.25" x2="638.95" y2="414.75" stroke="#2F4FE6" stroke-width="2" />
<polygon points="434.45,435 449.95,435 442.2,448.2" fill="#F09A7E" fill-opacity="0.8" stroke="#EE6633" stroke-width="1.6" stroke-linejoin="miter" />
<polygon points="458.45,413.8 473.95,413.8 466.2,427" fill="#F09A7E" fill-opacity="0.8" stroke="#EE6633" stroke-width="1.6" stroke-linejoin="miter" />
<polygon points="472.25,411.7 487.75,411.7 480,424.9" fill="#F09A7E" fill-opacity="0.8" stroke="#EE6633" stroke-width="1.6" stroke-linejoin="miter" />
<polygon points="515.55,380.2 531.05,380.2 523.3,393.4" fill="#F09A7E" fill-opacity="0.8" stroke="#EE6633" stroke-width="1.6" stroke-linejoin="miter" />
<line x1="445.4" y1="429.9" x2="459.4" y2="429.9" stroke="#4AB2F2" stroke-width="2.2" />
<polygon points="461.5,458.9 477.3,458.9 469.4,472.5" fill="#F09A7E" fill-opacity="0.8" stroke="#EE6633" stroke-width="1.6" stroke-linejoin="miter" />
<line x1="460.4" y1="456.7" x2="478.4" y2="474.7" stroke="#EE6633" stroke-width="1.8" />
<line x1="460.4" y1="474.7" x2="478.4" y2="456.7" stroke="#EE6633" stroke-width="1.8" />
<line x1="536.75" y1="461.4" x2="550.25" y2="461.4" stroke="#E53935" stroke-width="2" />
<line x1="543.5" y1="454.65" x2="543.5" y2="468.15" stroke="#E53935" stroke-width="2" />
<line x1="498.75" y1="485.2" x2="512.25" y2="485.2" stroke="#E53935" stroke-width="2" />
<line x1="505.5" y1="478.45" x2="505.5" y2="491.95" stroke="#E53935" stroke-width="2" />
<line x1="534.1" y1="463.6" x2="549.1" y2="463.6" stroke="#4A88F0" stroke-width="1.8" />
<line x1="541.6" y1="456.1" x2="541.6" y2="471.1" stroke="#4A88F0" stroke-width="1.8" />
<line x1="534.1" y1="456.1" x2="549.1" y2="471.1" stroke="#4A88F0" stroke-width="1.8" />
<line x1="534.1" y1="471.1" x2="549.1" y2="456.1" stroke="#4A88F0" stroke-width="1.8" />
<circle cx="559.6" cy="457.2" r="6.8" fill="#F7DA60" fill-opacity="0.9" stroke="#F5D64A" stroke-width="1.2"/>
<line x1="554.1" y1="451.7" x2="565.1" y2="462.7" stroke="#F9E48A" stroke-width="1.6" />
<line x1="554.1" y1="462.7" x2="565.1" y2="451.7" stroke="#F9E48A" stroke-width="1.6" />
<polygon points="564,473.1 575.8,473.1 575.8,484.9 564,484.9" fill="#F5BC80" fill-opacity="0.85" stroke="#F09A3E" stroke-width="1.4" stroke-linejoin="miter" />
<polygon points="565.6,478.1 577.4,478.1 577.4,489.9 565.6,489.9" fill="#F5BC80" fill-opacity="0.85" stroke="#F09A3E" stroke-width="1.4" stroke-linejoin="miter" />
<polygon points="594.9,490.3 606.7,490.3 606.7,502.1 594.9,502.1" fill="#F5BC80" fill-opacity="0.85" stroke="#F09A3E" stroke-width="1.4" stroke-linejoin="miter" />
<line x1="577.4" y1="491.8" x2="577.4" y2="505.8" stroke="#72E6F0" stroke-width="2.2" />
<line x1="594.1" y1="485.3" x2="594.1" y2="499.3" stroke="#72E6F0" stroke-width="2.2" />
<line x1="615" y1="473.9" x2="615" y2="487.9" stroke="#72E6F0" stroke-width="2.2" />
<line x1="619.3" y1="493" x2="619.3" y2="507" stroke="#72E6F0" stroke-width="2.2" />
<line x1="623.9" y1="499" x2="623.9" y2="513" stroke="#72E6F0" stroke-width="2.2" />
<line x1="627.4" y1="494.6" x2="627.4" y2="508.6" stroke="#72E6F0" stroke-width="2.2" />
<polygon points="585.3,413.5 596.7,413.5 596.7,424.9 585.3,424.9" fill="#F2AE60" fill-opacity="0.9" stroke="#F09A3E" stroke-width="1.4" stroke-linejoin="miter" />
<line x1="586.5" y1="414.7" x2="595.5" y2="423.7" stroke="#F5C080" stroke-width="1.2" />
<line x1="586.5" y1="423.7" x2="595.5" y2="414.7" stroke="#F5C080" stroke-width="1.2" />
<polygon points="582.6,387.45 590.85,395.7 582.6,403.95 574.35,395.7" fill="#E86A6A" fill-opacity="0.85" stroke="#E53935" stroke-width="1.2" stroke-linejoin="miter" />
<line x1="574.1" y1="387.2" x2="591.1" y2="404.2" stroke="#E53935" stroke-width="1.8" />
<line x1="574.1" y1="404.2" x2="591.1" y2="387.2" stroke="#E53935" stroke-width="1.8" />
<polygon points="573.1,374.1 575.03,378.44 579.76,378.94 576.23,382.12 577.21,386.76 573.1,384.39 568.99,386.76 569.97,382.12 566.44,378.94 571.17,378.44" fill="#F8E27A" fill-opacity="0.3" stroke="#F5D64A" stroke-width="1.6" stroke-linejoin="miter" />
<polygon points="579,371.1 580.93,375.44 585.66,375.94 582.13,379.12 583.11,383.76 579,381.39 574.89,383.76 575.87,379.12 572.34,375.94 577.07,375.44" fill="#F8E27A" fill-opacity="0.3" stroke="#F5D64A" stroke-width="1.6" stroke-linejoin="miter" />
<polygon points="584.8,366.7 586.73,371.04 591.46,371.54 587.93,374.72 588.91,379.36 584.8,376.99 580.69,379.36 581.67,374.72 578.14,371.54 582.87,371.04" fill="#F8E27A" fill-opacity="0.3" stroke="#F5D64A" stroke-width="1.6" stroke-linejoin="miter" />
<polygon points="601.6,355.1 603.53,359.44 608.26,359.94 604.73,363.12 605.71,367.76 601.6,365.39 597.49,367.76 598.47,363.12 594.94,359.94 599.67,359.44" fill="#F8E27A" fill-opacity="0.3" stroke="#F5D64A" stroke-width="1.6" stroke-linejoin="miter" />
<polygon points="606,353.7 607.93,358.04 612.66,358.54 609.13,361.72 610.11,366.36 606,363.99 601.89,366.36 602.87,361.72 599.34,358.54 604.07,358.04" fill="#F8E27A" fill-opacity="0.3" stroke="#F5D64A" stroke-width="1.6" stroke-linejoin="miter" />
<polygon points="640.4,333.94 642.44,338.53 647.44,339.05 643.71,342.41 644.75,347.33 640.4,344.82 636.05,347.33 637.09,342.41 633.36,339.05 638.36,338.53" fill="#F8D64A" fill-opacity="1" stroke="#F8D64A" stroke-width="1.2" stroke-linejoin="miter" />
<line x1="640.4" y1="332.1" x2="640.4" y2="347.6" stroke="#F8D64A" stroke-width="1.3" />
<polygon points="521.6,603.4 507.6,595.25 507.6,611.55" fill="#7AAAF5" fill-opacity="1" stroke="#3D86F4" stroke-width="2" stroke-linejoin="miter" />
<line x1="92.1" y1="336.2" x2="92.1" y2="691.1" stroke="#111" stroke-width="1.3" />
<text x="376.8" y="730.5" font-size="13" font-weight="bold" fill="#111" text-anchor="middle"  >Al<tspan font-size="8" dy="3">2</tspan><tspan dy="-3">O</tspan><tspan font-size="8" dy="3">3</tspan><tspan dy="-3"> + Fe</tspan><tspan font-size="8" dy="3">2</tspan><tspan dy="-3">O</tspan><tspan font-size="8" dy="3">3</tspan><tspan dy="-3"> + SiO</tspan><tspan font-size="8" dy="3">2</tspan><tspan dy="-3"> (%)</tspan></text>
<text x="0" y="0" font-size="13.2" font-weight="bold" fill="#111" text-anchor="middle"  transform="translate(55.3,517) rotate(-90)">CaO + SiO<tspan font-size="9" dy="3">2</tspan><tspan dy="-3"> (%)</tspan></text>
<text x="6" y="336" font-size="16" font-weight="bold" fill="#111" text-anchor="start" font-style="italic" >c</text>
<circle cx="109.5" cy="574.5" r="6.4" fill="#F9E38C" fill-opacity="1" stroke="#F7D84A" stroke-width="1.5"/>
<text x="123.2" y="578.8" font-size="12" font-weight="bold" fill="#1a1a1a" text-anchor="start"  >GGBFS</text>
<polygon points="103.6,586.7 115.4,586.7 115.4,598.5 103.6,598.5" fill="#F5BC80" fill-opacity="0.85" stroke="#F09A3E" stroke-width="1.4" stroke-linejoin="miter" />
<text x="123.2" y="596.9" font-size="12" font-weight="bold" fill="#1a1a1a" text-anchor="start"  >FA</text>
<polygon points="101.75,604.4 117.25,604.4 109.5,617.6" fill="#F09A7E" fill-opacity="0.8" stroke="#EE6633" stroke-width="1.6" stroke-linejoin="miter" />
<text x="123.2" y="615.3" font-size="12" font-weight="bold" fill="#1a1a1a" text-anchor="start"  >GP/GS</text>
<polygon points="109.5,622.65 118.15,631.3 109.5,639.95 100.85,631.3" fill="#EE7070" fill-opacity="0.9" stroke="#EA2E2E" stroke-width="1.9" stroke-linejoin="miter" />
<text x="123.2" y="635.6" font-size="12" font-weight="bold" fill="#1a1a1a" text-anchor="start"  >LP</text>
<polygon points="103,650.4 116,642.65 116,658.15" fill="#6A80EA" fill-opacity="1" stroke="#2446E8" stroke-width="1.8" stroke-linejoin="miter" />
<text x="123.2" y="654.7" font-size="12" font-weight="bold" fill="#1a1a1a" text-anchor="start"  >SS</text>
<polygon points="116.5,670.6 102.5,662.45 102.5,678.75" fill="#7AAAF5" fill-opacity="1" stroke="#3D86F4" stroke-width="2" stroke-linejoin="miter" />
<text x="123.2" y="674.9" font-size="12" font-weight="bold" fill="#1a1a1a" text-anchor="start"  >RM</text>
<polygon points="185.8,567.1 192.21,570.8 192.21,578.2 185.8,581.9 179.39,578.2 179.39,570.8" fill="#9EEEF0" fill-opacity="1" stroke="#80F2F4" stroke-width="1.2" stroke-linejoin="miter" />
<text x="200.5" y="578.8" font-size="12" font-weight="bold" fill="#1a1a1a" text-anchor="start"  >WBA</text>
<polygon points="185.8,586.3 187.73,590.64 192.46,591.14 188.93,594.32 189.91,598.96 185.8,596.59 181.69,598.96 182.67,594.32 179.14,591.14 183.87,590.64" fill="white" fill-opacity="1" stroke="#F5D64A" stroke-width="1.6" stroke-linejoin="miter" />
<text x="200.5" y="596.9" font-size="12" font-weight="bold" fill="#1a1a1a" text-anchor="start"  >RHA</text>
<polygon points="185.8,604.16 193.03,609.41 190.27,617.91 181.33,617.91 178.57,609.41" fill="url(#g6)" fill-opacity="1" stroke="#F0A040" stroke-width="1.6" stroke-linejoin="miter" />
<text x="200.5" y="615.3" font-size="12" font-weight="bold" fill="#1a1a1a" text-anchor="start"  >RCF/RCA</text>
<line x1="179.05" y1="631.3" x2="192.55" y2="631.3" stroke="#E53935" stroke-width="2" />
<line x1="185.8" y1="624.55" x2="185.8" y2="638.05" stroke="#E53935" stroke-width="2" />
<text x="200.5" y="635.6" font-size="12" font-weight="bold" fill="#1a1a1a" text-anchor="start"  >MT</text>
<line x1="178.55" y1="643.15" x2="193.05" y2="657.65" stroke="#2F4FE6" stroke-width="2" />
<line x1="178.55" y1="657.65" x2="193.05" y2="643.15" stroke="#2F4FE6" stroke-width="2" />
<text x="200.5" y="654.7" font-size="12" font-weight="bold" fill="#1a1a1a" text-anchor="start"  >IOT</text>
<line x1="178.3" y1="670.6" x2="193.3" y2="670.6" stroke="#4A88F0" stroke-width="1.8" />
<line x1="185.8" y1="663.1" x2="185.8" y2="678.1" stroke="#4A88F0" stroke-width="1.8" />
<line x1="178.3" y1="663.1" x2="193.3" y2="678.1" stroke="#4A88F0" stroke-width="1.8" />
<line x1="178.3" y1="678.1" x2="193.3" y2="663.1" stroke="#4A88F0" stroke-width="1.8" />
<text x="200.5" y="674.9" font-size="12" font-weight="bold" fill="#1a1a1a" text-anchor="start"  >GT</text>
<line x1="264" y1="574.5" x2="278" y2="574.5" stroke="#4AB2F2" stroke-width="2.2" />
<text x="287.3" y="578.8" font-size="12" font-weight="bold" fill="#1a1a1a" text-anchor="start"  >GRT</text>
<line x1="271" y1="585.6" x2="271" y2="599.6" stroke="#72E6F0" stroke-width="2.2" />
<text x="287.3" y="596.9" font-size="12" font-weight="bold" fill="#1a1a1a" text-anchor="start"  >CC (MK)</text>
<circle cx="271" cy="611" r="6.8" fill="#F7DA60" fill-opacity="0.9" stroke="#F5D64A" stroke-width="1.2"/>
<line x1="265.5" y1="605.5" x2="276.5" y2="616.5" stroke="#F9E48A" stroke-width="1.6" />
<line x1="265.5" y1="616.5" x2="276.5" y2="605.5" stroke="#F9E48A" stroke-width="1.6" />
<text x="287.3" y="615.3" font-size="12" font-weight="bold" fill="#1a1a1a" text-anchor="start"  >NB</text>
<polygon points="265.3,625.6 276.7,625.6 276.7,637 265.3,637" fill="#F2AE60" fill-opacity="0.9" stroke="#F09A3E" stroke-width="1.4" stroke-linejoin="miter" />
<line x1="266.5" y1="626.8" x2="275.5" y2="635.8" stroke="#F5C080" stroke-width="1.2" />
<line x1="266.5" y1="635.8" x2="275.5" y2="626.8" stroke="#F5C080" stroke-width="1.2" />
<text x="287.3" y="635.6" font-size="12" font-weight="bold" fill="#1a1a1a" text-anchor="start"  >NP</text>
<polygon points="263.1,643.6 278.9,643.6 271,657.2" fill="#F09A7E" fill-opacity="0.8" stroke="#EE6633" stroke-width="1.6" stroke-linejoin="miter" />
<line x1="262" y1="641.4" x2="280" y2="659.4" stroke="#EE6633" stroke-width="1.8" />
<line x1="262" y1="659.4" x2="280" y2="641.4" stroke="#EE6633" stroke-width="1.8" />
<text x="287.3" y="654.7" font-size="12" font-weight="bold" fill="#1a1a1a" text-anchor="start"  >NBP</text>
<polygon points="271,662.35 279.25,670.6 271,678.85 262.75,670.6" fill="#E86A6A" fill-opacity="0.85" stroke="#E53935" stroke-width="1.2" stroke-linejoin="miter" />
<line x1="262.5" y1="662.1" x2="279.5" y2="679.1" stroke="#E53935" stroke-width="1.8" />
<line x1="262.5" y1="679.1" x2="279.5" y2="662.1" stroke="#E53935" stroke-width="1.8" />
<text x="287.3" y="674.9" font-size="12" font-weight="bold" fill="#1a1a1a" text-anchor="start"  >DE</text>
<polygon points="363.45,574.5 349.95,566.75 349.95,582.25" fill="#7CA4F0" fill-opacity="1" stroke="#3A78EE" stroke-width="1.8" stroke-linejoin="miter" />
<line x1="345.2" y1="574.5" x2="363.2" y2="574.5" stroke="#3A78EE" stroke-width="1.8" />
<text x="370" y="578.8" font-size="12" font-weight="bold" fill="#1a1a1a" text-anchor="start"  >RBPC</text>
<polygon points="354.2,585.76 361.43,591.01 358.67,599.51 349.73,599.51 346.97,591.01" fill="url(#g7)" fill-opacity="1" stroke="#5BBDF8" stroke-width="1.6" stroke-linejoin="miter" />
<text x="370" y="596.9" font-size="12" font-weight="bold" fill="#1a1a1a" text-anchor="start"  >PLC</text>
<polygon points="354.2,603.4 360.78,607.2 360.78,614.8 354.2,618.6 347.62,614.8 347.62,607.2" fill="#8FF2F4" fill-opacity="1" stroke="#80F2F4" stroke-width="1.2" stroke-linejoin="miter" />
<text x="370" y="615.3" font-size="12" font-weight="bold" fill="#1a1a1a" text-anchor="start"  >CSAC</text>
<polygon points="354.2,624.64 356.24,629.23 361.24,629.75 357.51,633.11 358.55,638.03 354.2,635.52 349.85,638.03 350.89,633.11 347.16,629.75 352.16,629.23" fill="#F8D64A" fill-opacity="1" stroke="#F8D64A" stroke-width="1.2" stroke-linejoin="miter" />
<line x1="354.2" y1="622.8" x2="354.2" y2="638.3" stroke="#F8D64A" stroke-width="1.3" />
<text x="370" y="635.6" font-size="12" font-weight="bold" fill="#1a1a1a" text-anchor="start"  >nSiO<tspan font-size="8" dy="3">2</tspan></text>
</svg></body></html>
